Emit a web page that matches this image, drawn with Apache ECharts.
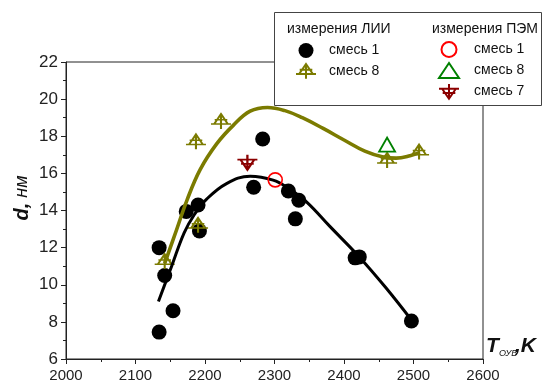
<!DOCTYPE html>
<html>
<head>
<meta charset="utf-8">
<script src="https://cdn.jsdelivr.net/npm/echarts@6/dist/echarts.min.js"></script>
<style>
  html, body { margin: 0; padding: 0; background: #fff; }
  #chart { width: 552px; height: 383px; }
</style>
</head>
<body>
<div id="chart"></div>
<script>
// Particle size d (nm) vs. temperature T (K)

// ЛИИ, смесь 1 (measured points)
const liiMix1T = [2134, 2134, 2142, 2154, 2173, 2190, 2192, 2270, 2283, 2320, 2335, 2330, 2416, 2422, 2497];
const liiMix1D = [12.0, 7.45, 10.5, 8.6, 13.95, 14.3, 12.9, 15.25, 17.85, 15.05, 14.55, 13.55, 11.45, 11.5, 8.05];

// ЛИИ, смесь 8 (measured points)
const liiMix8T = [2142, 2187, 2190, 2223, 2462, 2508];
const liiMix8D = [11.25, 17.7, 13.2, 18.8, 16.7, 17.15];

// ПЭМ measurements
const temMix1T = [2301];
const temMix1D = [15.65];
const temMix8T = [2462];
const temMix8D = [17.55];
const temMix7T = [2261];
const temMix7D = [16.6];

// Trend curve through смесь 1
const fitMix1T = [2133, 2152, 2170, 2185, 2202, 2231, 2265, 2298, 2320, 2346, 2380, 2422, 2460, 2497];
const fitMix1D = [9.1, 11.0, 12.8, 13.8, 14.6, 15.45, 15.85, 15.64, 15.2, 14.47, 13.13, 11.5, 9.85, 8.1];

// Trend curve through смесь 8
const fitMix8T = [2142, 2159, 2174, 2193, 2217, 2241, 2265, 2290, 2315, 2340, 2370, 2400, 2430, 2455, 2475, 2495, 2509];
const fitMix8D = [11.15, 12.95, 14.55, 16.2, 17.6, 18.6, 19.35, 19.55, 19.38, 19.0, 18.42, 17.8, 17.2, 16.9, 16.82, 16.95, 17.13];

// Axis ranges
const xMin = 2000, xMax = 2600, xStep = 100;
const yMin = 6, yMax = 22, yStep = 2;

const pairs = (xs, ys) => xs.map((x, i) => [x, ys[i]]);

const FONT = "'Liberation Sans', Arial, sans-serif";
const OLIVE = '#7b7b00';
const DARKRED = '#8b0000';

// triangle with a cross, apex up / apex down
const crossTriUp = 'path://M9.5,0L16,9.5L3,9.5ZM0,9.5L19,9.5M3.5,5.5L15.5,5.5M9.5,0L9.5,14';
const crossTriDown = 'path://M9.5,14L16,4.5L3,4.5ZM0,4.5L19,4.5M3.5,8.5L15.5,8.5M9.5,14L9.5,0';

const chart = echarts.init(document.getElementById('chart'), null, { renderer: 'canvas' });

const legendText = {
  fontFamily: FONT, fontSize: 14, color: '#111', lineHeight: 15
};

chart.setOption({
  animation: false,
  backgroundColor: '#fff',
  grid: {
    left: 66, top: 62, right: 69, bottom: 24,
    show: true, borderColor: '#222', borderWidth: 1, backgroundColor: 'transparent'
  },
  xAxis: {
    type: 'value', min: xMin, max: xMax, interval: xStep,
    axisLine: { lineStyle: { color: '#222', width: 1 } },
    axisTick: { show: true, length: 5, lineStyle: { color: '#222' } },
    minorTick: { show: true, splitNumber: 2, length: 3, lineStyle: { color: '#222' } },
    splitLine: { show: false },
    axisLabel: { fontFamily: FONT, fontSize: 15, color: '#222', margin: 9, formatter: v => String(v) }
  },
  yAxis: {
    type: 'value', min: yMin, max: yMax, interval: yStep,
    axisLine: { show: true, lineStyle: { color: '#222', width: 1 } },
    axisTick: { show: true, length: 5, lineStyle: { color: '#222' } },
    minorTick: { show: true, splitNumber: 2, length: 3, lineStyle: { color: '#222' } },
    splitLine: { show: false },
    axisLabel: { fontFamily: FONT, fontSize: 17, color: '#222', margin: 8 }
  },
  legend: [
    {
      orient: 'vertical', left: 295, top: 43, padding: 0,
      itemWidth: 20, itemHeight: 15, itemGap: 5,
      data: ['ЛИИ смесь 1', 'ЛИИ смесь 8'],
      formatter: n => n.replace(/^\S+ /, ''),
      textStyle: Object.assign({ padding: [0, 0, 0, 8] }, legendText),
      selectedMode: false, z: 10
    },
    {
      orient: 'vertical', left: 438, top: 41, padding: 0,
      itemWidth: 20, itemHeight: 15, itemGap: 4,
      data: ['ПЭМ смесь 1', 'ПЭМ смесь 8', 'ПЭМ смесь 7'],
      formatter: n => n.replace(/^\S+ /, ''),
      textStyle: Object.assign({ padding: [0, 0, 0, 10] }, legendText),
      selectedMode: false, z: 10
    }
  ],
  graphic: [
    {
      type: 'rect', z: 8, silent: true,
      shape: { x: 274.5, y: 12.5, width: 267, height: 93 },
      style: { fill: '#fff', stroke: '#444', lineWidth: 1 }
    },
    {
      type: 'text', z: 9, left: 287, top: 22, silent: true,
      style: { text: 'измерения ЛИИ', font: '14px ' + FONT, fill: '#111' }
    },
    {
      type: 'text', z: 9, left: 432, top: 22, silent: true,
      style: { text: 'измерения ПЭМ', font: '14px ' + FONT, fill: '#111' }
    },
    // y-axis title
    {
      type: 'text', z: 9, silent: true,
      x: 22, y: 198, rotation: Math.PI / 2,
      style: {
        text: '{d|d,}{u| нм}',
        align: 'center', verticalAlign: 'middle',
        rich: {
          d: { font: 'italic bold 20px ' + FONT, fill: '#111' },
          u: { font: 'italic 18px ' + FONT, fill: '#111' }
        }
      }
    },
    // x-axis title
    {
      type: 'text', z: 9, silent: true, x: 486, y: 336,
      style: { text: 'T', font: 'italic bold 21px ' + FONT, fill: '#111' }
    },
    {
      type: 'text', z: 9, silent: true, x: 499, y: 349,
      style: { text: 'ОУВ', font: 'italic 9px ' + FONT, fill: '#111' }
    },
    {
      type: 'text', z: 9, silent: true, x: 515, y: 336,
      style: { text: ',K', font: 'italic bold 21px ' + FONT, fill: '#111' }
    }
  ],
  series: [
    {
      name: 'ЛИИ смесь 1', type: 'scatter', z: 2,
      symbol: 'circle', symbolSize: 15,
      itemStyle: { color: '#000', opacity: 1 },
      data: pairs(liiMix1T, liiMix1D)
    },
    {
      name: 'ЛИИ смесь 8', type: 'scatter', z: 2,
      symbol: crossTriUp, symbolSize: [20, 15],
      itemStyle: { color: 'rgba(0,0,0,0)', borderColor: OLIVE, borderWidth: 1.8, opacity: 1 },
      data: pairs(liiMix8T, liiMix8D)
    },
    {
      name: 'fit смесь 1', type: 'line', z: 3,
      showSymbol: false, smooth: 0.4,
      lineStyle: { color: '#000', width: 3 },
      data: pairs(fitMix1T, fitMix1D)
    },
    {
      name: 'fit смесь 8', type: 'line', z: 3,
      showSymbol: false, smooth: 0.4,
      lineStyle: { color: OLIVE, width: 3.6 },
      data: pairs(fitMix8T, fitMix8D)
    },
    {
      name: 'ПЭМ смесь 1', type: 'scatter', z: 4,
      symbol: 'circle', symbolSize: 14,
      itemStyle: { color: 'rgba(255,255,255,0)', borderColor: '#ff0000', borderWidth: 1.6, opacity: 1 },
      data: pairs(temMix1T, temMix1D)
    },
    {
      name: 'ПЭМ смесь 8', type: 'scatter', z: 4,
      symbol: 'triangle', symbolSize: [16, 14],
      itemStyle: { color: 'rgba(255,255,255,0)', borderColor: '#008000', borderWidth: 1.8, opacity: 1 },
      data: pairs(temMix8T, temMix8D)
    },
    {
      name: 'ПЭМ смесь 7', type: 'scatter', z: 4,
      symbol: crossTriDown, symbolSize: [20, 15],
      itemStyle: { color: 'rgba(0,0,0,0)', borderColor: DARKRED, borderWidth: 2, opacity: 1 },
      data: pairs(temMix7T, temMix7D)
    }
  ]
});
</script>
</body>
</html>
